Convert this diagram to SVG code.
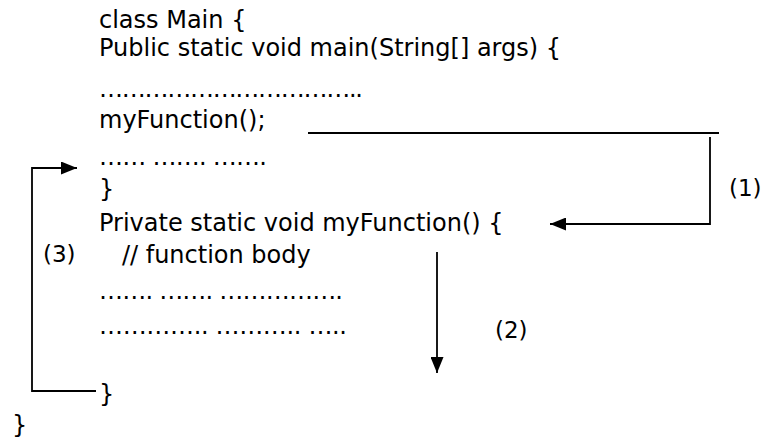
<svg xmlns="http://www.w3.org/2000/svg" width="766" height="440" viewBox="0 0 766 440">
  <style>
    .code { font-family: "DejaVu Sans", Verdana, sans-serif; font-size: 24px; fill: #000; }
    .lbl { font-family: "DejaVu Sans", Verdana, sans-serif; font-size: 23px; fill: #000; }
    .flow { fill: none; stroke: #000; stroke-width: 1.8; }
  </style>
  <defs>
    <marker id="head" viewBox="0 0 16 13" refX="16" refY="6.5" markerWidth="16" markerHeight="13" markerUnits="userSpaceOnUse" orient="auto">
      <path d="M0,0 L16,6.5 L0,13 Z" fill="#000"/>
    </marker>
  </defs>
  <rect width="766" height="440" fill="#fff"/>

  <!-- program listing -->
  <g id="listing">
    <text class="code" x="99" y="28">class Main {</text>
    <text class="code" x="99" y="56">Public static void main(String[] args) {</text>
    <text class="code" x="99" y="97" textLength="264" lengthAdjust="spacing">……………………………..</text>
    <text class="code" x="99" y="128">myFunction();</text>
    <text class="code" x="99" y="165" textLength="168" lengthAdjust="spacing">…… ……. …….</text>
    <text class="code" x="99" y="197">}</text>
    <text class="code" x="99" y="231">Private static void myFunction() {</text>
    <text class="code" x="99" y="263" xml:space="preserve">   // function body</text>
    <text class="code" x="99" y="299" textLength="244" lengthAdjust="spacing">……. ……. …………….</text>
    <text class="code" x="99" y="334" textLength="248" lengthAdjust="spacing">………….. ……….. …..</text>
    <text class="code" x="99" y="402">}</text>
    <text class="code" x="12" y="433">}</text>
  </g>

  <!-- control flow arrows -->
  <g id="connectors">
    <path class="flow" d="M308,133 H719" stroke-width="2.2"/>
    <path class="flow" d="M710,137 V224 H550" marker-end="url(#head)"/>
    <path class="flow" d="M437,252 V373" marker-end="url(#head)"/>
    <path class="flow" d="M96,391 H32 V168 H77" marker-end="url(#head)"/>
  </g>

  <g id="step1"><text class="lbl" x="729" y="196">(1)</text></g>
  <g id="step2"><text class="lbl" x="495" y="338">(2)</text></g>
  <g id="step3"><text class="lbl" x="43" y="262">(3)</text></g>
</svg>
